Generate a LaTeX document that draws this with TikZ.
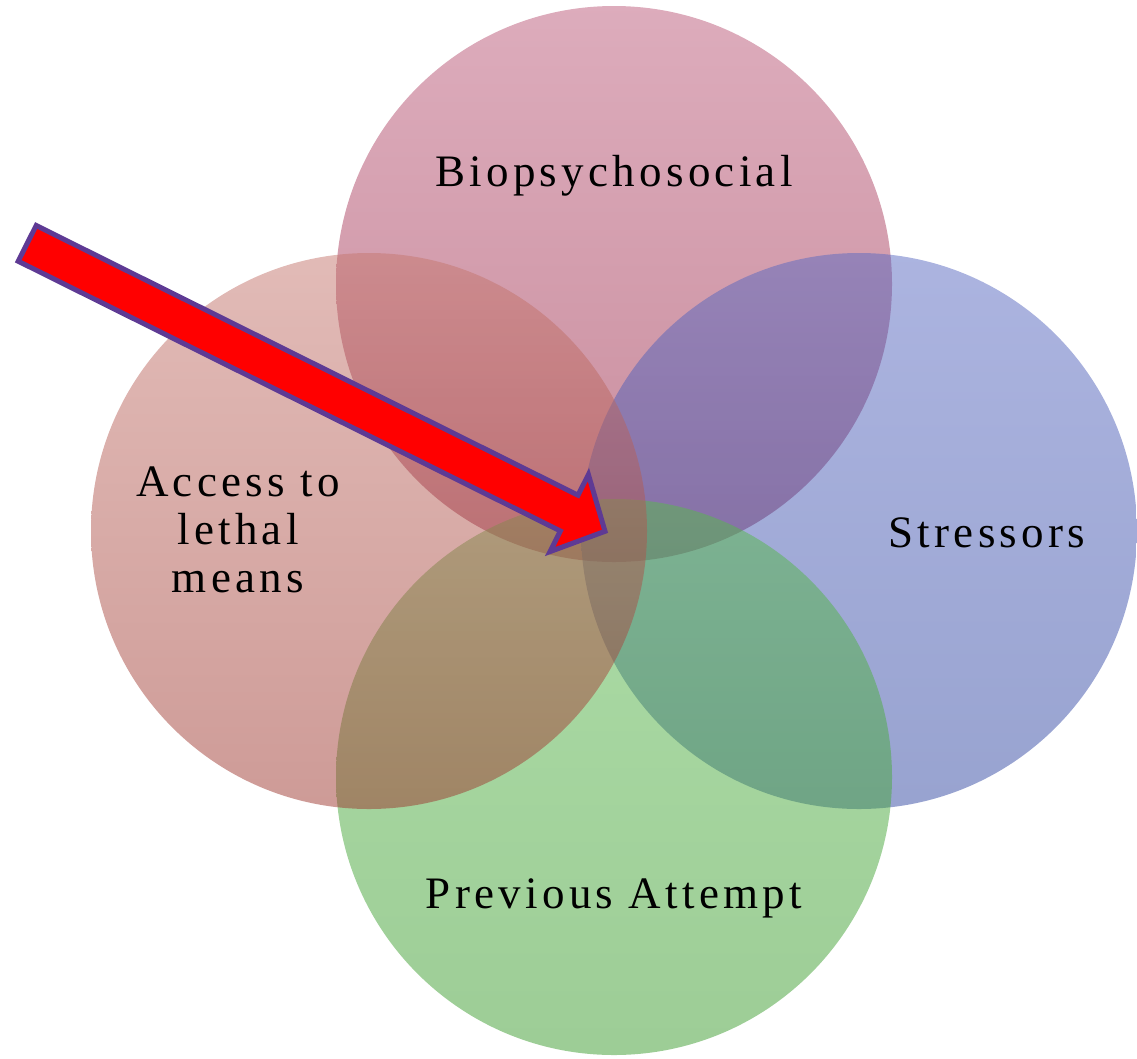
\documentclass[tikz,border=0pt]{standalone}
\usepackage{fontspec}
\newfontfamily\lblfont[LetterSpace=9.5]{Liberation Serif}
\definecolor{bioTop}{RGB}{187,89,121}
\definecolor{bioBot}{RGB}{147,28,60}
\definecolor{strTop}{RGB}{89,105,193}
\definecolor{strBot}{RGB}{49,71,161}
\definecolor{prvTop}{RGB}{89,185,77}
\definecolor{prvBot}{RGB}{59,155,45}
\definecolor{accTop}{RGB}{197,119,111}
\definecolor{accBot}{RGB}{157,55,47}
\definecolor{arrowLine}{RGB}{94,58,148}
\begin{document}
\begin{tikzpicture}[x=1pt,y=-1pt,
  vennc/.style={circle, draw=none, minimum size=556pt, inner sep=0pt, fill opacity=0.5},
  lbl/.style={font=\lblfont\fontsize{45}{48}\selectfont, inner sep=0pt, text=black, text opacity=1},
  blockarrow/.style={fill=red, draw=arrowLine, line width=5pt, line join=miter}]
\useasboundingbox (0,0) rectangle (1137,1058);
% circles (drawing order: top, right, bottom, left)
\node[vennc, top color=bioTop, bottom color=bioBot] (bio) at (614,284) {};
\node[vennc, top color=strTop, bottom color=strBot] (str) at (859,531) {};
\node[vennc, top color=prvTop, bottom color=prvBot] (prv) at (614,777) {};
\node[vennc, top color=accTop, bottom color=accBot] (acc) at (369,531) {};
% labels
\node[lbl, anchor=base] (tbio) at (614,186) {Biopsychosocial};
\node[lbl, anchor=base] (tstr) at (987,547) {Stressors};
\node[lbl, anchor=base] (tprv) at (614,908) {Previous Attempt};
\node[lbl, align=center, anchor=center] (tacc) at (238,530) {Access to\\lethal\\means};
% block arrow
\coordinate (a1) at (36.2,225.5);
\coordinate (a2) at (578.0,495.2);
\coordinate (a3) at (588.4,474.6);
\coordinate (a4) at (605.0,531.3);
\coordinate (a5) at (550.0,551.6);
\coordinate (a6) at (560.4,531.0);
\coordinate (a7) at (18.2,261.2);
\draw[blockarrow] (a1) -- (a2) -- (a3) -- (a4) -- (a5) -- (a6) -- (a7) -- cycle;
\end{tikzpicture}
\end{document}
